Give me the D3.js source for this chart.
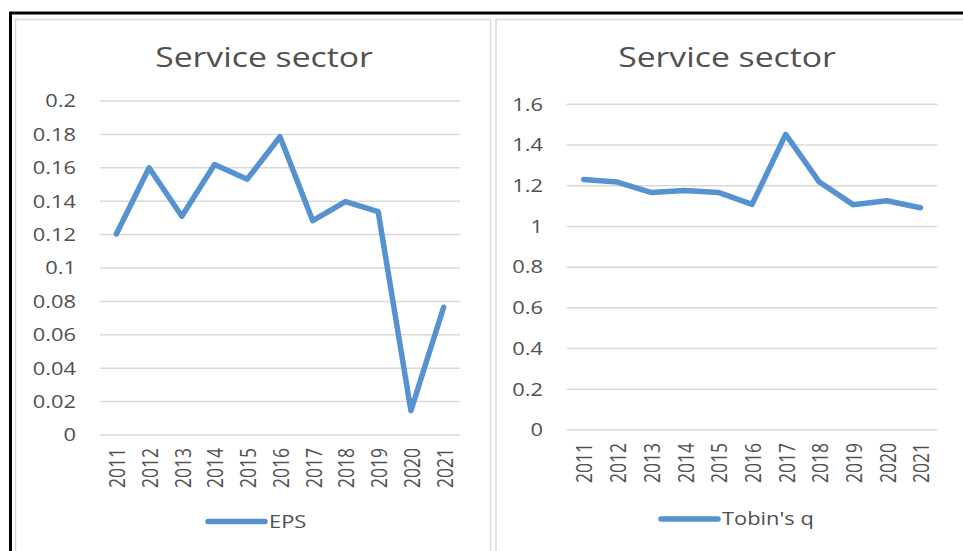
<!DOCTYPE html>
<html>
<head>
<meta charset="utf-8">
<script src="https://cdn.jsdelivr.net/npm/d3@7"></script>
<style>
  html, body { margin: 0; padding: 0; background: #ffffff; }
  svg { display: block; }
  text { font-family: "Open Sans", "Noto Sans", sans-serif; fill: #505050; }
</style>
</head>
<body>
<svg id="chart" width="963" height="551"></svg>
<script>
const years = ["2011","2012","2013","2014","2015","2016","2017","2018","2019","2020","2021"];
const epsValues = [0.1204, 0.1600, 0.1310, 0.1620, 0.1532, 0.1786, 0.1283, 0.1397, 0.1337, 0.0146, 0.0765];
const tobinValues = [1.231, 1.218, 1.167, 1.176, 1.167, 1.108, 1.452, 1.218, 1.107, 1.126, 1.092];
const epsTicks = [0, 0.02, 0.04, 0.06, 0.08, 0.1, 0.12, 0.14, 0.16, 0.18, 0.2];
const tobinTicks = [0, 0.2, 0.4, 0.6, 0.8, 1, 1.2, 1.4, 1.6];
const titles = ["Service sector", "Service sector"];
const seriesNames = ["EPS", "Tobin's q"];

const svg = d3.select("#chart");
const SX = 1.25; // horizontal stretch of the picture
const lineColor = "#5592d0";
const gridColor = "#d9d9d9";

// outer frame and panel borders
svg.append("rect").attr("x", 0).attr("y", 0).attr("width", 963).attr("height", 551).attr("fill", "#fff");
svg.append("path").attr("d", "M10.5,600 L10.5,13 L1000,13").attr("fill", "none").attr("stroke", "#000").attr("stroke-width", 3);
svg.append("rect").attr("x", 15.5).attr("y", 19.5).attr("width", 475).attr("height", 600)
  .attr("fill", "none").attr("stroke", gridColor).attr("stroke-width", 1.5);
svg.append("rect").attr("x", 496).attr("y", 19.5).attr("width", 600).attr("height", 600)
  .attr("fill", "none").attr("stroke", gridColor).attr("stroke-width", 1.5);

function stretchedText(g, x, y, str, opts) {
  const t = g.append("text")
    .attr("transform", `translate(${x},${y}) scale(${SX},1)` + (opts.rotate ? ` rotate(${opts.rotate})` : ""))
    .attr("text-anchor", opts.anchor || "start")
    .attr("dy", opts.dy || "0")
    .style("font-size", opts.size + "px")
    .text(str);
  return t;
}

function drawPanel(cfg) {
  const g = svg.append("g");
  const x = d3.scaleBand().domain(years).range(cfg.xr).padding(0);
  const y = d3.scaleLinear().domain(cfg.yd).range(cfg.yr);

  // title
  stretchedText(g, cfg.titleX, 67, cfg.title, {anchor: "middle", size: 27});

  // gridlines
  g.selectAll(".grid").data(cfg.ticks).enter().append("line")
    .attr("x1", cfg.xr[0]).attr("x2", cfg.xr[1])
    .attr("y1", d => y(d)).attr("y2", d => y(d))
    .attr("stroke", gridColor).attr("stroke-width", 1.5);

  // y tick labels
  cfg.ticks.forEach(d => {
    stretchedText(g, cfg.yLabelX, y(d), String(+d.toFixed(2)), {anchor: "end", size: 17.5, dy: "0.36em"});
  });

  // x tick labels (rotated)
  years.forEach(yr => {
    stretchedText(g, x(yr) + x.bandwidth() / 2 + 1, cfg.xLabelY, yr, {anchor: "end", size: 17.5, rotate: -90, dy: "0.36em"});
  });

  // line
  const line = d3.line().x((d, i) => x(years[i]) + x.bandwidth() / 2).y(d => y(d));
  g.append("path").datum(cfg.values).attr("d", line)
    .attr("fill", "none").attr("stroke", lineColor).attr("stroke-width", 5.5)
    .attr("stroke-linejoin", "round").attr("stroke-linecap", "round");

  // legend
  g.append("line").attr("x1", cfg.legX).attr("x2", cfg.legX + 57)
    .attr("y1", cfg.legY).attr("y2", cfg.legY)
    .attr("stroke", lineColor).attr("stroke-width", 5.5).attr("stroke-linecap", "round");
  stretchedText(g, cfg.legX + 61, cfg.legY, cfg.name, {anchor: "start", size: 17.5, dy: "0.36em"});
}

drawPanel({
  xr: [100, 460], yd: [0, 0.2], yr: [435, 101], ticks: epsTicks, values: epsValues,
  title: titles[0], titleX: 264, yLabelX: 76, xLabelY: 448, legX: 208, legY: 521.5, name: seriesNames[0]
});
drawPanel({
  xr: [566.7, 937.3], yd: [0, 1.6], yr: [430, 104.3], ticks: tobinTicks, values: tobinValues,
  title: titles[1], titleX: 727, yLabelX: 543, xLabelY: 443, legX: 661, legY: 519, name: seriesNames[1]
});
</script>
</body>
</html>
